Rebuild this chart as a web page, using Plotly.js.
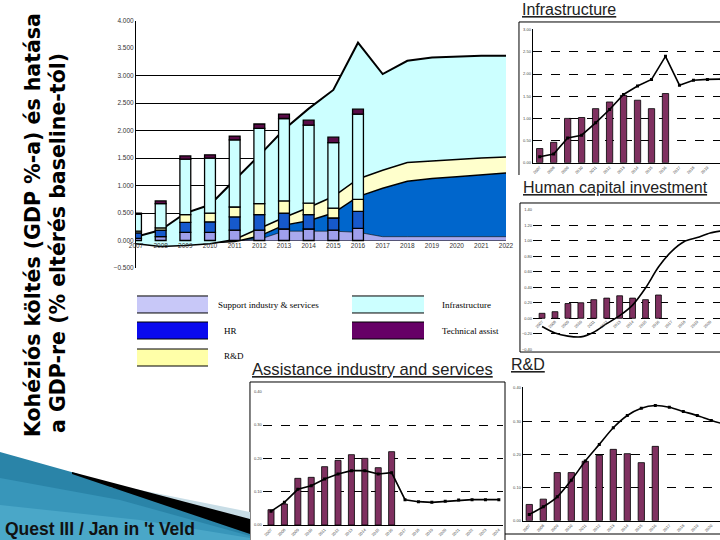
<!DOCTYPE html>
<html><head><meta charset="utf-8">
<script src="https://cdn.plot.ly/plotly-3.0.1.min.js"></script>
<style>html,body{margin:0;padding:0;background:#fff}#c{width:720px;height:540px}</style>
</head><body><div id="c"></div>
<script>
// ---------- data ----------
const years = [2007,2008,2009,2010,2011,2012,2013,2014,2015,2016,2017,2018,2019,2020,2021,2022];
const barYears = [2007,2008,2009,2010,2011,2012,2013,2014,2015,2016];
const insetYears = [2007,2008,2009,2010,2011,2012,2013,2014,2015,2016,2017,2018,2019,2020,2021,2022,2023,2024];

// main chart – stacked areas (effect on GDP)
const areaSupport = [-0.02,-0.04,-0.03,-0.02,0.00,0.02,0.17,0.17,0.17,0.15,0.07,0.07,0.07,0.07,0.07,0.07];
const areaHR      = [-0.03,-0.04,-0.04,-0.03,-0.02,0.06,0.11,0.19,0.33,0.65,0.88,1.01,1.06,1.09,1.12,1.16];
const areaRD      = [-0.01,-0.03,-0.02,-0.01,0.04,0.14,0.14,0.24,0.30,0.32,0.33,0.34,0.32,0.32,0.31,0.29];
const areaInfra   = [0.13,0.30,0.59,0.71,1.08,1.33,1.60,1.80,1.94,2.48,1.75,1.85,1.88,1.87,1.86,1.84];

// main chart – stacked bars (spending, % of GDP)
const barSupport = [0.04,0.07,0.15,0.15,0.19,0.19,0.21,0.21,0.19,0.22];
const barHR      = [0.10,0.12,0.18,0.19,0.24,0.28,0.29,0.26,0.22,0.31];
const barRD      = [0.03,0.04,0.14,0.16,0.18,0.20,0.22,0.21,0.18,0.22];
const barInfra   = [0.31,0.44,1.01,1.00,1.22,1.37,1.50,1.42,1.19,1.55];
const barTA      = [0.02,0.05,0.06,0.06,0.07,0.08,0.08,0.09,0.10,0.09];

// insets
const infraBars  = [0.32,0.46,1.00,1.02,1.22,1.37,1.52,1.41,1.22,1.56];
const infraLine  = [0.135,0.195,0.56,0.62,0.90,1.20,1.54,1.73,1.88,2.40,1.75,1.86,1.88,1.89,1.90,1.90];
const hcBars     = [0.064,0.085,0.19,0.20,0.24,0.26,0.29,0.26,0.24,0.30];
const hcLine     = [-0.106,-0.19,-0.23,-0.24,-0.18,-0.07,0.034,0.17,0.39,0.66,0.86,0.99,1.04,1.10,1.13,1.15];
const assistBars = [0.046,0.063,0.14,0.143,0.175,0.194,0.211,0.20,0.172,0.22];
const assistLine = [0.041,0.068,0.107,0.118,0.138,0.153,0.163,0.163,0.153,0.157,0.076,0.070,0.068,0.071,0.075,0.076,0.076,0.076];
const rdBars     = [0.049,0.065,0.145,0.145,0.179,0.197,0.215,0.202,0.175,0.224];
const rdLine     = [0.019,0.042,0.072,0.122,0.18,0.23,0.28,0.317,0.339,0.347,0.342,0.329,0.317,0.302,0.29,0.28];

const mainTicks = [-0.5,0,0.5,1,1.5,2,2.5,3,3.5,4];
const mainGrid  = [-0.5,0,0.5,1,1.5,2,2.5,3];
const yearLabels = years.map(String);
const insetLabels = insetYears.map(String);

const legendItems = [
  {label:'Support industry &amp; services', color:'#c8c8f8'},
  {label:'HR', color:'#0a0aee'},
  {label:'R&amp;D', color:'#ffffa8'},
  {label:'Infrastructure', color:'#ccffff'},
  {label:'Technical assist', color:'#660066'}
];

// ---------- helpers (pixel -> paper) ----------
const W = 720, H = 540;
const X = p => p / W;
const Y = p => 1 - p / H;
const path = pts => pts.map((p,i) => (i ? 'L' : 'M') + X(p[0]).toFixed(4) + ',' + Y(p[1]).toFixed(4)).join(' ');
const SANS = 'Liberation Sans, Arial, sans-serif';
const SERIF = 'Liberation Serif, Times New Roman, serif';

// ---------- traces ----------
const traces = [];
const areaDefs = [
  [areaSupport, '#aaaaee', 0.6],
  [areaHR, '#0066cc', 1.5],
  [areaRD, '#ffffcc', 1.5],
  [areaInfra, '#ccffff', 2]
];
areaDefs.forEach(([v, c, w]) => traces.push({
  type:'scatter', mode:'lines', x:years, y:v, stackgroup:'main',
  fillcolor:c, line:{color:'#000', width:w}, xaxis:'x', yaxis:'y', hoverinfo:'skip'
}));
const barDefs = [
  [barSupport, '#9f9fec'],
  [barHR, '#1659cc'],
  [barRD, '#ffffc0'],
  [barInfra, '#ccffff'],
  [barTA, '#5a0c48']
];
barDefs.forEach(([v, c]) => traces.push({
  type:'bar', x:barYears, y:v, width:0.44, marker:{color:c, line:{color:'#000', width:1.3}},
  xaxis:'x', yaxis:'y2', hoverinfo:'skip'
}));

function inset(bars, line, lx, ax, ay, smooth, markers) {
  traces.push({type:'bar', x:barYears, y:bars, width:0.45,
    marker:{color:'#7f3060', line:{color:'#000', width:0.8}}, xaxis:ax, yaxis:ay, hoverinfo:'skip'});
  traces.push({type:'scatter', mode: markers ? 'lines+markers' : 'lines', x:lx, y:line,
    line:{color:'#000', width:1.6, shape: smooth ? 'spline' : 'linear', smoothing:0.8},
    marker:{color:'#000', size:3, symbol:'square'}, xaxis:ax, yaxis:ay, hoverinfo:'skip'});
}
inset(infraBars, infraLine, years, 'x3', 'y3', false, true);
inset(hcBars, hcLine, years, 'x4', 'y4', true, false);
inset(assistBars, assistLine, insetYears, 'x5', 'y5', false, true);
inset(rdBars, rdLine, years, 'x6', 'y6', true, true);

// ---------- axes ----------
const tinyFont = {family:SANS, size:4, color:'#444'};
function insetX(domain, range, anchorY, extra) {
  return Object.assign({domain:domain, range:range, anchor:anchorY, tickvals:insetYears, ticktext:insetLabels,
    tickangle:-45, tickfont:tinyFont, showgrid:false, zeroline:false, showline:true, linecolor:'#000', linewidth:1,
    ticks:''}, extra || {});
}
function insetY(domain, range, dtick, anchorX, extra) {
  return Object.assign({domain:domain, range:range, anchor:anchorX, dtick:dtick, tick0:0, tickformat:'.2f',
    tickfont:tinyFont, showgrid:true, gridcolor:'#000', gridwidth:1, griddash:'dash', zeroline:false,
    showline:true, linecolor:'#000', linewidth:1, ticks:''}, extra || {});
}

const layout = {
  width:W, height:H, margin:{l:0, r:0, t:0, b:0},
  paper_bgcolor:'#fff', plot_bgcolor:'rgba(0,0,0,0)', showlegend:false, barmode:'relative',
  xaxis:{domain:[X(136), X(506)], range:[2007, 2022], anchor:'free', position:Y(240.7),
    tickvals:years, ticktext:yearLabels, tickfont:{family:SANS, size:6.5, color:'#333'},
    showgrid:false, zeroline:false, showline:false, ticks:''},
  yaxis:{domain:[Y(268), Y(20.7)], range:[-0.5, 4.0], anchor:'x', tickvals:mainTicks, tickformat:'.3f',
    tickfont:{family:SANS, size:6.5, color:'#333'}, showgrid:false, zeroline:false,
    showline:true, linecolor:'#000', linewidth:1, ticks:''},
  yaxis2:{overlaying:'y', range:[-0.5, 4.0], anchor:'x', tickvals:mainGrid, showticklabels:false,
    showgrid:true, gridcolor:'#000', gridwidth:1, zeroline:false, showline:false, ticks:''},

  xaxis3: insetX([X(532.7), 1], [2006.5, 2019.9], 'y3'),
  yaxis3: insetY([Y(162.7), Y(29.3)], [0, 3.01], 0.5, 'x3'),

  xaxis4: insetX([X(533), 1], [2006.3, 2020.76], 'free', {position:Y(317.7), showline:false}),
  yaxis4: insetY([Y(349.3), Y(209.3)], [-0.4, 1.405], 0.2, 'x4', {tick0:-0.4, showline:false}),

  xaxis5: insetX([X(262.7), X(503)], [2006.38, 2024.31], 'y5'),
  yaxis5: insetY([Y(525), Y(391)], [0, 0.402], 0.1, 'x5', {showline:false}),

  xaxis6: insetX([X(522.7), 1], [2006.53, 2020.62], 'y6'),
  yaxis6: insetY([Y(520.7), Y(387.3)], [0, 0.402], 0.1, 'x6'),
  shapes:[], annotations:[]
};

// ---------- decorations ----------
const sh = layout.shapes, an = layout.annotations;
const lineShape = (pts, w, c) => sh.push({type:'path', xref:'paper', yref:'paper', path:path(pts),
  line:{color:c || '#000', width:w || 1}, layer:'below'});
const polyShape = (pts, fill) => sh.push({type:'path', xref:'paper', yref:'paper', path:path(pts) + ' Z',
  fillcolor:fill, line:{width:0}, layer:'above'});

// inset frames
lineShape([[519,175],[519,22],[720,22]]);
lineShape([[720,203],[520,203],[520,352],[720,352]]);
lineShape([[250,540],[250,382],[505,382],[505,540]]);
lineShape([[505,534],[720,534]]);

// legend boxes
const boxes = [[137,296,208,313],[137,322,208,339],[137,349,208,366],[352,296,424,313],[352,322,424,339]];
const labelPos = [[216,305],[222,331],[222,356],[440,305],[440,331]];
legendItems.forEach((it, i) => {
  const b = boxes[i];
  sh.push({type:'rect', xref:'paper', yref:'paper', x0:X(b[0]), x1:X(b[2]), y0:Y(b[3]), y1:Y(b[1]),
    fillcolor:it.color, line:{width:0}, layer:'below'});
  lineShape([[b[0],b[1]],[b[2],b[1]]], 1);
  lineShape([[b[0],b[3]],[b[2],b[3]]], 1);
  an.push({text:it.label, x:X(labelPos[i][0]), y:Y(labelPos[i][1]), xref:'paper', yref:'paper',
    xanchor:'left', yanchor:'middle', showarrow:false, font:{family:SERIF, size:9, color:'#000'}});
});

// footer swoosh
polyShape([[0,452],[75,473],[250,533],[250,540],[0,540]], '#2a84a8');
polyShape([[0,478],[120,500],[250,536],[250,540],[0,540]], '#3896ba');
polyShape([[0,505],[140,520],[250,538],[250,540],[0,540]], '#4aa7c8');
polyShape([[110,484],[250,512],[250,521],[110,487]], '#c8dde6');
polyShape([[72,472],[250,519],[250,534],[72,474]], '#000');

// titles
const title = (t, x, y, size) => an.push({text:t, x:X(x), y:Y(y), xref:'paper', yref:'paper',
  xanchor:'left', yanchor:'top', showarrow:false, font:{family:SANS, size:size, color:'#222'}});
title('<u>Infrastructure</u>', 520, -1, 16);
title('<u>Human capital investment</u>', 521, 177, 16);
title('<u>Assistance industry and services</u>', 250, 358, 16.6);
title('<u>R&amp;D</u>', 509, 354, 16);

const vTitle = (t, xc, ybottom) => an.push({text:'<b>' + t + '</b>', textangle:-90, x:X(xc), y:Y(ybottom),
  xref:'paper', yref:'paper', xanchor:'center', yanchor:'bottom', showarrow:false,
  font:{family:'DejaVu Sans, sans-serif', size:20.5, color:'#000'}});
vTitle('Kohéziós költés (GDP %-a) és hatása', 33, 439);
vTitle('a GDP-re (% eltérés baseline-tól)', 58, 435);

an.push({text:'<b>Quest III / Jan in \'t Veld</b>', x:X(3), y:Y(529), xref:'paper', yref:'paper',
  xanchor:'left', yanchor:'middle', showarrow:false, font:{family:SANS, size:17.5, color:'#111'}});

Plotly.newPlot('c', traces, layout, {staticPlot:true});
</script>
</body></html>
